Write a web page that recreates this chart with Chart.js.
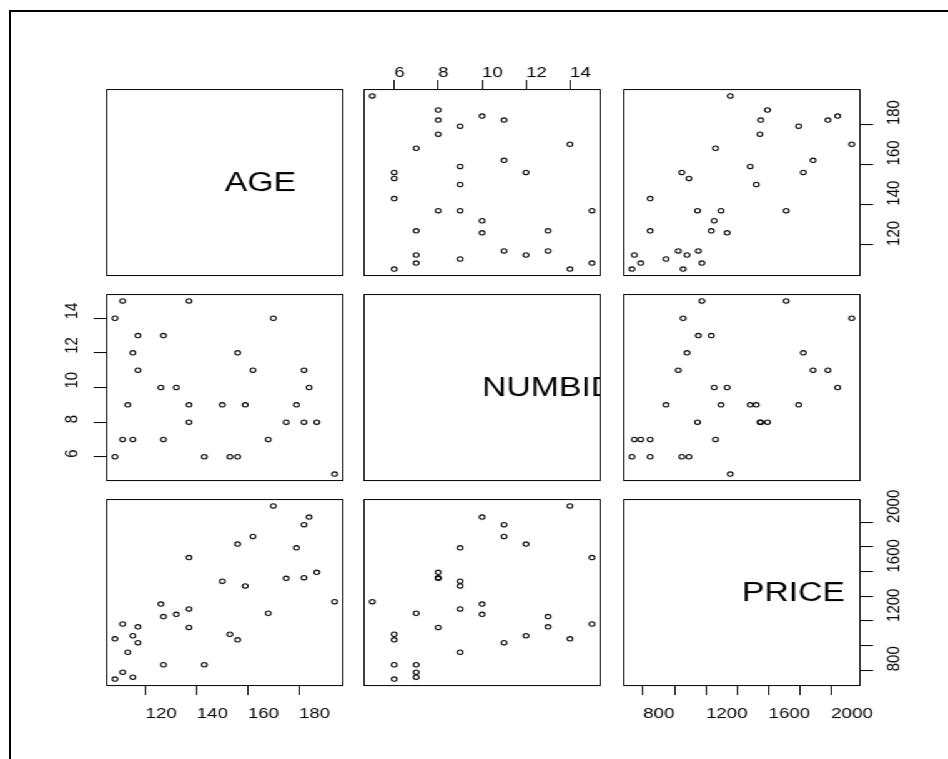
<!DOCTYPE html>
<html>
<head>
<meta charset="utf-8">
<title>Grandfather clock auctions: scatterplot matrix</title>
<script src="https://cdn.jsdelivr.net/npm/chart.js@4.4.0/dist/chart.umd.min.js"></script>
<style>
  html, body { margin: 0; padding: 0; background: #fff; overflow: hidden; width: 948px; height: 759px; }
  #frame { position: absolute; left: 9px; top: 10px; width: 2000px; height: 2000px;
           border-left: 2px solid #000; border-top: 2px solid #000; }
  /* the matrix is laid out on a square sheet, then widened to the page */
  #plot { position: absolute; left: 0; top: 0; width: 759px; height: 759px;
          transform: scaleX(1.249); transform-origin: 0 0; }
  #plot canvas { position: absolute; }
</style>
</head>
<body>
<div id="frame"></div>
<div id="plot"></div>
<script>
// Variables of the matrix, in row/column order
const variables = ['AGE', 'NUMBIDS', 'PRICE'];

// One row per clock sold at auction
const age = [127, 115, 127, 150, 156, 182, 156, 132, 137, 113, 137, 117, 137, 153, 117, 126,
             170, 182, 162, 184, 143, 159, 108, 175, 108, 179, 111, 187, 111, 115, 194, 168];
const numbids = [13, 12, 7, 9, 6, 11, 12, 10, 9, 9, 15, 11, 8, 6, 13, 10,
                 14, 8, 11, 10, 6, 9, 14, 8, 6, 9, 15, 8, 7, 7, 5, 7];
const price = [1235, 1080, 845, 1522, 1047, 1979, 1822, 1253, 1297, 946, 1713, 1024, 1147, 1092, 1152, 1336,
               2131, 1550, 1884, 2041, 845, 1483, 1055, 1545, 729, 1792, 1175, 1593, 785, 744, 1356, 1262];

// Tick positions and their printed labels ('' = tick mark only)
const ageTicks = [120, 140, 160, 180];
const ageTickLabels = ['120', '140', '160', '180'];
const numbidsTicks = [6, 8, 10, 12, 14];
const numbidsTickLabels = ['6', '8', '10', '12', '14'];
const priceTicks = [800, 1000, 1200, 1400, 1600, 1800, 2000];
const priceTickLabels = ['800', '', '1200', '', '1600', '', '2000'];

const series = [age, numbids, price];
const tickValues = [ageTicks, numbidsTicks, priceTicks];
const tickLabels = [ageTickLabels, numbidsTickLabels, priceTickLabels];

// Panel geometry on the square sheet
const M = 60;                       // room around each panel for its axes
const colLeft = [85.2, 291.4, 498.6];
const rowTop = [89, 294, 499];
const panelW = 190, panelH = 187;
const FONT = '"Liberation Sans", Arial, Helvetica, sans-serif';

// Axis limits: data range widened by 4% on each side
function paddedRange(v) {
  const lo = Math.min(...v), hi = Math.max(...v), e = (hi - lo) * 0.04;
  return [lo - e, hi + e];
}
const ranges = series.map(paddedRange);

// Box around each panel, rotated labels for vertical axes, variable name on the diagonal
const panelDecor = {
  id: 'panelDecor',
  afterDraw(chart, args, opts) {
    const { ctx, chartArea: a } = chart;
    ctx.save();
    ctx.strokeStyle = '#000';
    ctx.lineWidth = 1;
    const top = Math.round(a.top) + 0.5, bottom = Math.round(a.bottom) - 0.5;
    ctx.strokeRect(a.left + 0.5, top, a.right - a.left - 1, bottom - top);

    if (opts.side) {
      const scale = chart.scales.y;
      ctx.fillStyle = '#000';
      ctx.font = '15px ' + FONT;
      ctx.textAlign = 'left';
      ctx.textBaseline = 'middle';
      opts.values.forEach((v, k) => {
        const lab = opts.labels[k];
        if (!lab) return;
        const y = scale.getPixelForValue(v);
        const x = opts.side === 'left' ? a.left - 26.7 : a.right + 26.7;
        ctx.save();
        ctx.translate(x, y);
        ctx.rotate(-Math.PI / 2);
        ctx.fillText(lab, -1, 0);
        ctx.restore();
      });
    }

    if (opts.title) {
      ctx.beginPath();
      ctx.rect(a.left, a.top, a.right - a.left, a.bottom - a.top);
      ctx.clip();
      ctx.fillStyle = '#000';
      ctx.font = '27px ' + FONT;
      ctx.textAlign = 'left';
      ctx.textBaseline = 'middle';
      ctx.fillText(opts.title, (a.left + a.right) / 2, (a.top + a.bottom) / 2 + 1);
    }
    ctx.restore();
  }
};

const plot = document.getElementById('plot');

for (let i = 0; i < 3; i++) {
  for (let j = 0; j < 3; j++) {
    const xSide = (i === 0 && j % 2 === 1) ? 'top' : (i === 2 && j % 2 === 0) ? 'bottom' : null;
    const ySide = (j === 0 && i % 2 === 1) ? 'left' : (j === 2 && i % 2 === 0) ? 'right' : null;

    const canvas = document.createElement('canvas');
    canvas.width = panelW + 2 * M;
    canvas.height = panelH + 2 * M;
    canvas.style.left = (colLeft[j] - M) + 'px';
    canvas.style.top = (rowTop[i] - M) + 'px';
    plot.appendChild(canvas);

    const datasets = [];
    if (i !== j) {
      datasets.push({
        data: series[j].map((xv, k) => ({ x: xv, y: series[i][k] })),
        pointStyle: 'circle',
        pointRadius: 2.2,
        pointBorderWidth: 1.1,
        pointBorderColor: '#000',
        pointBackgroundColor: 'rgba(0,0,0,0)',
        showLine: false
      });
    }

    new Chart(canvas, {
      type: 'scatter',
      data: { datasets },
      plugins: [panelDecor],
      options: {
        responsive: false,
        animation: false,
        events: [],
        layout: {
          padding: {
            top: xSide === 'top' ? 0 : M,
            bottom: xSide === 'bottom' ? 0 : M,
            left: ySide === 'left' ? 0 : M,
            right: ySide === 'right' ? 0 : M
          }
        },
        plugins: {
          legend: { display: false },
          tooltip: { enabled: false },
          panelDecor: {
            title: i === j ? variables[i] : null,
            side: ySide,
            values: tickValues[i],
            labels: tickLabels[i]
          }
        },
        scales: {
          x: {
            type: 'linear',
            display: !!xSide,
            position: xSide || 'bottom',
            min: ranges[j][0],
            max: ranges[j][1],
            afterBuildTicks: s => { s.ticks = tickValues[j].map(v => ({ value: v })); },
            afterFit: s => { if (xSide) s.height = M; },
            border: { display: false },
            grid: { drawOnChartArea: false, drawTicks: true, tickLength: 9, tickWidth: 1, tickColor: '#000' },
            ticks: {
              autoSkip: false, maxRotation: 0, minRotation: 0,
              align: 'start',
              padding: xSide === 'top' ? -1.5 : 9.5,
              color: '#000',
              font: { family: FONT, size: 15 },
              callback: (v, idx) => tickLabels[j][idx]
            }
          },
          y: {
            type: 'linear',
            display: !!ySide,
            position: ySide || 'left',
            min: ranges[i][0],
            max: ranges[i][1],
            afterBuildTicks: s => { s.ticks = tickValues[i].map(v => ({ value: v })); },
            afterFit: s => { if (ySide) s.width = M; },
            border: { display: false },
            grid: { drawOnChartArea: false, drawTicks: true, tickLength: 10, tickWidth: 1, tickColor: '#000' },
            ticks: { display: false }
          }
        }
      }
    });
  }
}
</script>
</body>
</html>
